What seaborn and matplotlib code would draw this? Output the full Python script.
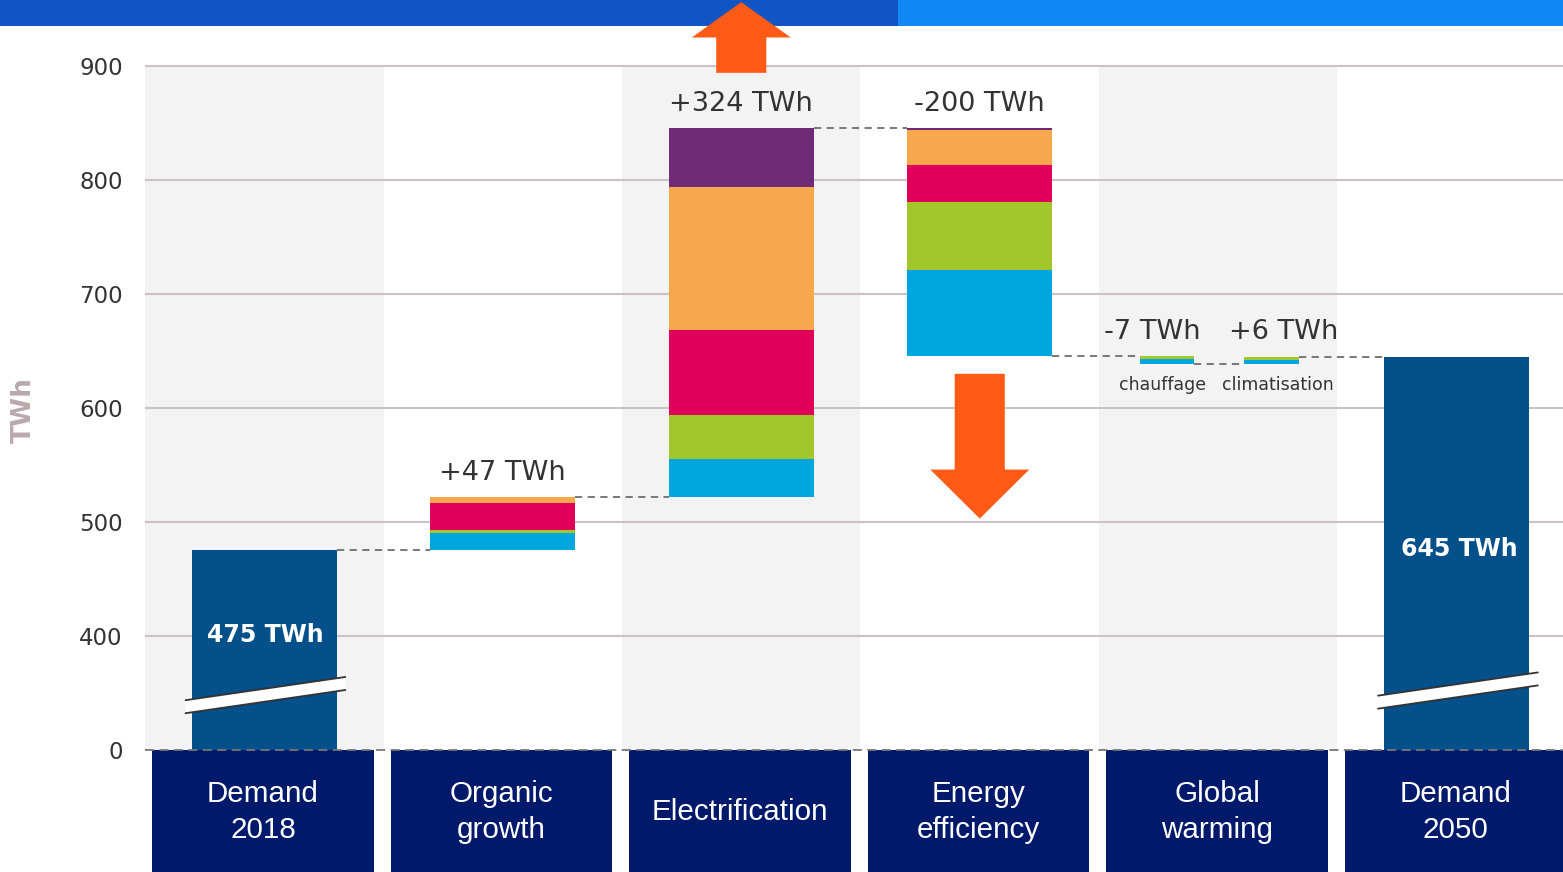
import matplotlib
matplotlib.use("Agg")
import matplotlib.pyplot as plt
from matplotlib.patches import Polygon, FancyArrow, Rectangle
import seaborn as sns

# --- data (TWh) ---
steps = ["Demand\n2018", "Organic\ngrowth", "Electrification",
         "Energy\nefficiency", "Global\nwarming", "Demand\n2050"]

demand_2018 = 475
demand_2050 = 645

# stacked contributions, bottom to top: blue, green, red, orange, purple
organic_parts = [15, 3, 24, 5, 0]
electrif_parts = [33, 39, 74, 126, 52]
efficiency_parts = [75, 60, 32, 31, 2]
chauffage_parts = [4, 3]
climatisation_parts = [3, 3]

step_labels = ["+47 TWh", "+324 TWh", "-200 TWh", "-7 TWh", "+6 TWh"]
sub_labels = ["chauffage", "climatisation"]
total_labels = ["475 TWh", "645 TWh"]

# broken axis: the "0" tick is drawn where 300 would be
y_ticks = [300, 400, 500, 600, 700, 800, 900]
y_tick_labels = ["0", "400", "500", "600", "700", "800", "900"]

seg_colors = ["#00A7DF", "#A3C62B", "#E0005A", "#F7A84C", "#6F2B78"]
total_color = "#03508B"
box_color = "#00196B"
arrow_color = "#FF5A16"
dash_color = "#6E6E6E"

sns.set_theme(style="white")
plt.rcParams["font.family"] = ["DejaVu Sans"]

fig = plt.figure(figsize=(15.63, 8.72), dpi=100)
fig.patch.set_facecolor("white")

# top banner (under the axes so the arrow can sit on it)
fig.add_artist(Rectangle((0, 1 - 26 / 872), 898 / 1563, 26 / 872, transform=fig.transFigure,
                         color="#1155C4", lw=0, zorder=-1))
fig.add_artist(Rectangle((898 / 1563, 1 - 26 / 872), 1 - 898 / 1563, 26 / 872,
                         transform=fig.transFigure, color="#1089F7", lw=0, zorder=-1))

ax = fig.add_axes([145 / 1563, 0, 1418 / 1563, 1])
ax.patch.set_visible(False)
ax.set_xlim(0, 1418 / 238.5)
ax.set_ylim(192.98, 957.89)
for s in ax.spines.values():
    s.set_visible(False)

# alternating grey columns
for i in (0, 2, 4):
    ax.fill_between([i, i + 1], 300, 900, color="#F3F3F3", lw=0, zorder=0)

# gridlines
ax.hlines(y_ticks[1:], 0, 6, color="#CCC2C6", lw=1.5, zorder=0.5)

w = 0.61


def stack(x, base, parts, width):
    b = base
    for k, h in enumerate(parts):
        if h > 0:
            ax.bar(x, h, bottom=b, width=width, color=seg_colors[k], lw=0, zorder=2)
        b += h
    return b


# totals
base = y_ticks[0]
for x, v in [(0.5, demand_2018), (5.5, demand_2050)]:
    ax.bar(x, v - base, bottom=base, width=w, color=total_color, lw=0, zorder=2)

# waterfall steps
org_top = stack(1.5, demand_2018, organic_parts, w)
el_top = stack(2.5, org_top, electrif_parts, w)
eff_bot = el_top - sum(efficiency_parts)
stack(3.5, eff_bot, efficiency_parts, w)
ch_x, cl_x, sw = 4.285, 4.725, 0.23
ch_bot = eff_bot - sum(chauffage_parts)
stack(ch_x, ch_bot, chauffage_parts, sw)
cl_top = stack(cl_x, ch_bot, climatisation_parts, sw)

# dashed connectors
conn = [
    (0.5 + w / 2, 1.5 - w / 2, demand_2018),
    (1.5 + w / 2, 2.5 - w / 2, org_top),
    (2.5 + w / 2, 3.5 - w / 2, el_top),
    (3.5 + w / 2, ch_x - sw / 2, eff_bot),
    (ch_x + sw / 2, cl_x - sw / 2, ch_bot),
    (cl_x + sw / 2, 5.5 - w / 2, cl_top),
]
for x1, x2, y in conn:
    ax.plot([x1, x2], [y, y], color=dash_color, ls=(0, (4, 3)), lw=1.3, zorder=3)

# step labels
label_pos = [(1.5, org_top), (2.5, el_top), (3.5, el_top),
             (ch_x - 0.06, eff_bot), (cl_x + 0.05, eff_bot)]
for (x, y), txt in zip(label_pos, step_labels):
    ax.annotate(txt, (x, y), xytext=(0, 12), textcoords="offset points",
                ha="center", va="baseline", fontsize=19.5, color="#333333")

ax.text(ch_x - 0.02, 620, sub_labels[0], ha="center", va="center", fontsize=12.5, color="#333333")
ax.text(cl_x + 0.025, 620, sub_labels[1], ha="center", va="center", fontsize=12.5, color="#333333")

# labels inside totals
ax.text(0.505, 401, total_labels[0], ha="center", va="center", fontsize=17,
        fontweight="bold", color="white", zorder=4)
ax.text(5.51, 476, total_labels[1], ha="center", va="center", fontsize=17,
        fontweight="bold", color="white", zorder=4)

# broken-axis marks
for xc, ym in [(0.5, 348), (5.5, 352)]:
    x0, x1 = xc - 0.33, xc + 0.34
    slope, th = 30.4, 11.4
    yl, yr = ym - slope * 0.33, ym + slope * 0.34
    ax.add_patch(Polygon([(x0, yl - th / 2), (x1, yr - th / 2), (x1, yr + th / 2), (x0, yl + th / 2)],
                         closed=True, facecolor="white", edgecolor="none", zorder=4))
    for d in (-th / 2, th / 2):
        ax.plot([x0, x1], [yl + d, yr + d], color="#333333", lw=1.3, zorder=5)

# arrows
ax.add_patch(FancyArrow(2.5, 894, 0, 62, width=0.21, head_width=0.415, head_length=31,
                        length_includes_head=True, color=arrow_color, lw=0, zorder=6, clip_on=False))
ax.add_patch(FancyArrow(3.5, 630, 0, -127, width=0.21, head_width=0.415, head_length=43,
                        length_includes_head=True, color=arrow_color, lw=0, zorder=6))

# category boxes
for i, name in enumerate(steps):
    ax.bar(i + 0.495, 300 - 150, bottom=150, width=0.93, color=box_color, lw=0, zorder=2)
    ax.text(i + 0.495, 245.6, name, ha="center", va="center", fontsize=21.3,
            family=["Liberation Sans", "DejaVu Sans"], color="white", linespacing=1.4, zorder=4)

# zero baseline
ax.axhline(300, color="#777777", ls=(0, (5, 3)), lw=1.3, zorder=3)

# axis ticks
ax.set_xticks([])
ax.set_yticks(y_ticks, y_tick_labels)
ax.tick_params(axis="y", length=0, pad=16, labelsize=16.5, labelcolor="#333333")
fig.text(24 / 1563, 1 - 410 / 872, "TWh", rotation=90, ha="center", va="center",
         fontsize=19, fontweight="bold", color="#B9A9AE")

fig.savefig("out.png", dpi=100)
